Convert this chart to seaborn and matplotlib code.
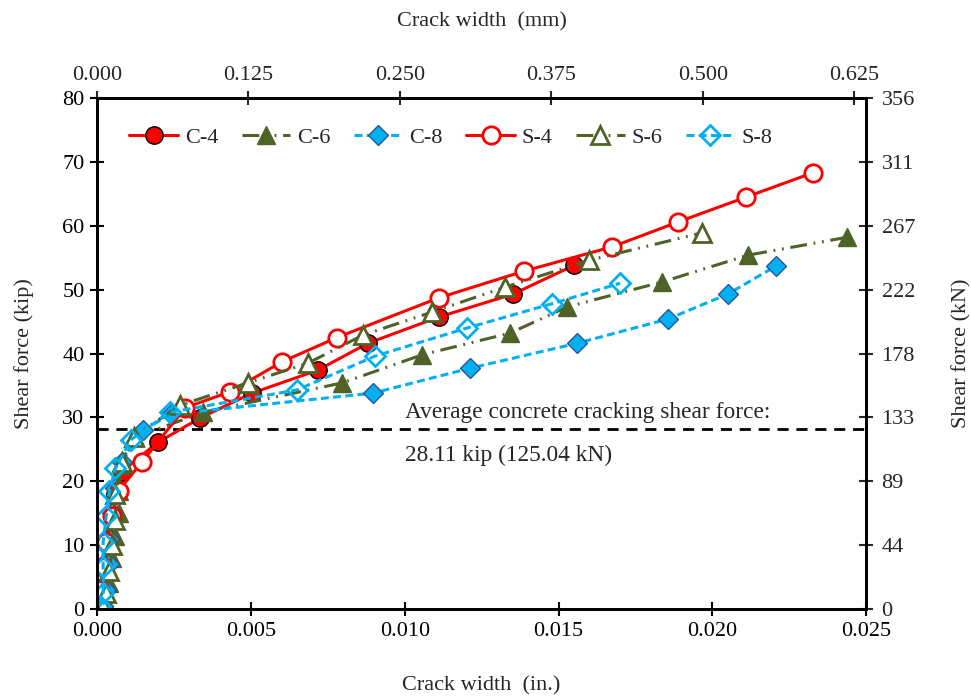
import matplotlib
matplotlib.use("Agg")
import matplotlib.pyplot as plt
import seaborn as sns
import pandas as pd

sns.set_theme(style="white")
plt.rcParams['font.family'] = ['Liberation Serif', 'DejaVu Serif']
plt.rcParams['mathtext.fontset'] = 'stix'

# ---------------- data (crack width in., shear force kip) ----------------
c4_x = [0.0000, 0.0002, 0.0003, 0.0004, 0.0005, 0.0006, 0.0008, 0.00198, 0.00335, 0.00504, 0.00718, 0.0088, 0.0111, 0.01352, 0.0155]
c4_y = [0.5, 3.5, 7.0, 11.0, 14.5, 18.0, 21.5, 26.1, 29.9, 33.8, 37.4, 41.6, 45.7, 49.3, 53.8]

c6_x = [0.0003, 0.0004, 0.0005, 0.0006, 0.0007, 0.0007, 0.0008, 0.00124, 0.00345, 0.00797, 0.01057, 0.01343, 0.01528, 0.01837, 0.02116, 0.02438]
c6_y = [1.0, 4.0, 8.0, 11.5, 15.0, 18.5, 22.5, 26.9, 30.8, 35.4, 39.8, 43.2, 47.3, 51.2, 55.4, 58.2]

c8_x = [0.0002, 0.0003, 0.0004, 0.0004, 0.0005, 0.0006, 0.0008, 0.0015, 0.0024, 0.00897, 0.01213, 0.0156, 0.01856, 0.0205, 0.02207]
c8_y = [0.5, 3.0, 7.0, 11.0, 15.0, 19.0, 23.0, 28.0, 30.5, 33.8, 37.7, 41.6, 45.4, 49.3, 53.7]

s4_x = [0.0001, 0.0001, 0.0002, 0.0003, 0.0005, 0.0007, 0.00146, 0.00286, 0.00432, 0.00601, 0.0078, 0.0111, 0.01388, 0.01674, 0.01889, 0.0211, 0.02327]
s4_y = [0.5, 3.0, 6.6, 10.5, 14.5, 18.5, 23.0, 31.5, 34.0, 38.7, 42.5, 48.7, 52.9, 56.7, 60.6, 64.5, 68.3]

s6_x = [0.0002, 0.0003, 0.0004, 0.0005, 0.0006, 0.0006, 0.0008, 0.0012, 0.0027, 0.0049, 0.00686, 0.00865, 0.0109, 0.01327, 0.016, 0.01967]
s6_y = [0.5, 2.5, 6.0, 10.0, 14.0, 18.0, 23.0, 27.0, 31.9, 35.4, 38.5, 42.9, 46.5, 50.4, 54.6, 58.9]

s8_x = [0.0001, 0.0002, 0.0002, 0.0002, 0.0003, 0.0004, 0.0006, 0.0011, 0.00237, 0.0065, 0.00904, 0.01203, 0.01479, 0.017]
s8_y = [0.5, 2.5, 6.5, 10.5, 14.5, 18.5, 22.0, 26.5, 30.8, 34.3, 39.6, 44.0, 47.8, 51.0]

crack_avg = 28.11
kn_tick_labels = ["0", "44", "89", "133", "178", "222", "267", "311", "356"]
kip_ticks = [0, 10, 20, 30, 40, 50, 60, 70, 80]
mm_ticks = [0.000, 0.125, 0.250, 0.375, 0.500, 0.625]
in_ticks = [0.000, 0.005, 0.010, 0.015, 0.020, 0.025]

RED = "#FF0000"
OLIVE = "#4F6228"
BLUE = "#00B0F0"
DBLUE = "#2F5597"
FS = 16

fig = plt.figure(figsize=(9.71, 6.98), dpi=100)
ax = fig.add_axes([0.0999, 0.1275, 0.7922, 0.7321])

dashdotdot = (0, (5.5, 2.2, 0.6, 2.2, 0.6, 2.2))
dashed = (0, (2.6, 1.4))

series = [
    ("C-4", c4_x, c4_y, dict(color=RED, linestyle="-", marker="o", markersize=12.5,
                             markerfacecolor=RED, markeredgecolor="black", markeredgewidth=1.0)),
    ("C-6", c6_x, c6_y, dict(color=OLIVE, linestyle=dashdotdot, marker="^", markersize=13.5,
                             markerfacecolor=OLIVE, markeredgecolor=OLIVE, markeredgewidth=1.0)),
    ("C-8", c8_x, c8_y, dict(color=BLUE, linestyle=dashed, marker="D", markersize=10,
                             markerfacecolor=BLUE, markeredgecolor=DBLUE, markeredgewidth=1.0)),
    ("S-4", s4_x, s4_y, dict(color=RED, linestyle="-", marker="o", markersize=12.5,
                             markerfacecolor="white", markeredgecolor=RED, markeredgewidth=2.0)),
    ("S-6", s6_x, s6_y, dict(color=OLIVE, linestyle=dashdotdot, marker="^", markersize=13.5,
                             markerfacecolor="white", markeredgecolor=OLIVE, markeredgewidth=2.0)),
    ("S-8", s8_x, s8_y, dict(color=BLUE, linestyle=dashed, marker="D", markersize=10,
                             markerfacecolor="none", markeredgecolor=BLUE, markeredgewidth=2.0)),
]

for name, xs, ys, kw in series:
    df = pd.DataFrame({"x": xs, "y": ys})
    sns.lineplot(data=df, x="x", y="y", ax=ax, sort=False, estimator=None,
                 linewidth=2.2, label=name, **kw)

ax.axhline(crack_avg, color="black", linestyle=(0, (4, 2.8)), linewidth=2.0, zorder=1)
ax.text(0.0100, crack_avg + 2.7, "Average concrete cracking shear force:",
        fontsize=16.8, ha="left", va="center")
ax.text(0.0100, crack_avg - 4.0, "28.11 kip (125.04 kN)",
        fontsize=16.8, ha="left", va="center")

ax.set_xlim(0, 0.025)
ax.set_ylim(0, 80)
ax.set_xticks(in_ticks)
ax.set_xticklabels([f"{t:.3f}" for t in in_ticks])
ax.set_yticks(kip_ticks)
ax.set_yticklabels([str(t) for t in kip_ticks])
ax.set_xlabel("Crack width  (in.)", fontsize=FS, labelpad=26)
ax.set_ylabel("Shear force (kip)", fontsize=FS, labelpad=20)
ax.tick_params(axis="both", direction="inout", length=10, width=1.5, labelsize=FS,
               colors="black", pad=4)

# right axis (kN)
axr = ax.twinx()
axr.set_ylim(0, 80)
axr.set_yticks(kip_ticks)
axr.set_yticklabels(kn_tick_labels)
axr.set_ylabel("Shear force (kN)", fontsize=FS, labelpad=27)
axr.tick_params(axis="y", direction="inout", length=10, width=1.5, labelsize=FS, pad=6)

# top axis (mm)
axt = ax.twiny()
axt.set_xlim(0, 0.025 * 25.4)
axt.set_xticks(mm_ticks)
axt.set_xticklabels([f"{t:.3f}" for t in mm_ticks])
axt.set_xlabel("Crack width  (mm)", fontsize=FS, labelpad=29)
axt.tick_params(axis="x", direction="inout", length=10, width=1.5, labelsize=FS, pad=4)

for a in (ax, axr, axt):
    for s in a.spines.values():
        s.set_color("black")
        s.set_linewidth(1.8)

leg = ax.legend(loc="upper left", bbox_to_anchor=(0.016, 0.982), ncol=6, frameon=False,
                fontsize=FS, handlelength=2.2, columnspacing=1.05, handletextpad=0.3)

fig.savefig("out.png", dpi=100)
